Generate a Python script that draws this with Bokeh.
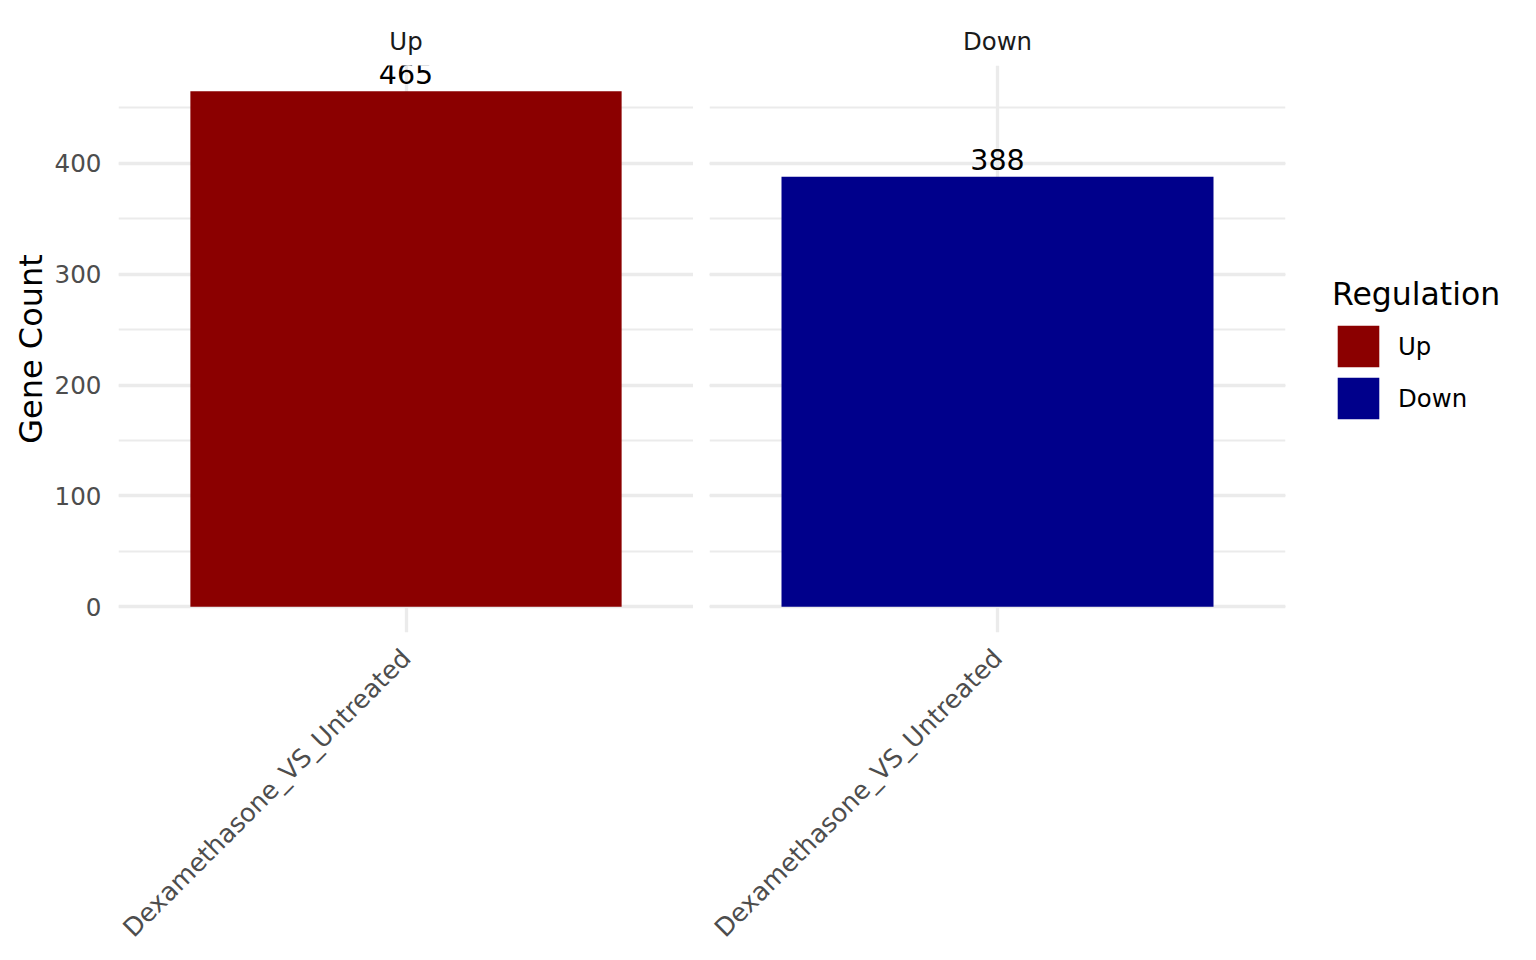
import math
from bokeh.plotting import figure
from bokeh.models import (ColumnDataSource, FactorRange, Range1d, SingleIntervalTicker,
                          Grid, LabelSet, Legend, LegendItem)
from bokeh.core.properties import value
from bokeh.layouts import row
from bokeh.embed import file_html
from bokeh.resources import INLINE

# ---------------- data ----------------
comparisons = ["Dexamethasone_VS_Untreated", "Dexamethasone_VS_Untreated"]
regulation = ["Up", "Down"]
gene_counts = [465, 388]
fill_colors = ["#8B0000", "#00008B"]
y_tick_interval = 100

FONT = "DejaVu Sans"
GRID = "#EBEBEB"

y_max = max(gene_counts)
pad = 0.05 * y_max
y_range = Range1d(-pad, y_max + pad)

FRAME_H = 567
TOP = 65
BOTTOM = 320

panels = []
renderers = []
for i, reg in enumerate(regulation):
    src = ColumnDataSource(dict(
        comparison=[comparisons[i]],
        regulation=[reg],
        count=[gene_counts[i]],
        label=[str(gene_counts[i])],
        color=[fill_colors[i]],
    ))
    first = i == 0
    p = figure(
        x_range=FactorRange(factors=[comparisons[i]], range_padding=0.2),
        y_range=y_range,
        frame_width=575 if first else 576,
        frame_height=FRAME_H,
        min_border_left=118 if first else 16,
        min_border_right=0 if first else 235,
        min_border_top=TOP,
        min_border_bottom=BOTTOM,
        y_axis_location="left" if first else None,
        title=reg,
        tools="",
        toolbar_location=None,
        output_backend="svg",
        background_fill_color="white",
        border_fill_color="white",
        outline_line_color=None,
    )
    p.title.align = "center"
    p.title.text_font = FONT
    p.title.text_font_size = "24.4px"
    p.title.text_font_style = "normal"
    p.title.text_color = "#1A1A1A"
    p.title.standoff = 20

    r = p.vbar(x="comparison", top="count", width=0.9, source=src,
               fill_color="color", line_color=None)
    renderers.append((r, src))

    labels = LabelSet(x="comparison", y="count", text="label", source=src,
                      text_align="center", text_baseline="alphabetic", y_offset=7,
                      text_font=value(FONT), text_font_size=value("28.5px"),
                      text_color=value("black"))
    p.add_layout(labels)

    # x axis
    xa = p.xaxis[0]
    xa.major_label_orientation = math.pi / 4
    xa.major_label_text_font = FONT
    xa.major_label_text_font_size = "25.4px"
    xa.major_label_text_color = "#4D4D4D"
    xa.major_label_standoff = 21
    xa.major_tick_line_color = None
    xa.major_tick_out = 0
    xa.major_tick_in = 0
    xa.minor_tick_line_color = None
    xa.axis_line_color = None
    p.xgrid.grid_line_color = GRID
    p.xgrid.grid_line_width = 3.3

    ticker = SingleIntervalTicker(interval=y_tick_interval, num_minor_ticks=2)
    if first:
        ya = p.yaxis[0]
        ya.ticker = ticker
        ya.axis_label = "Gene Count"
        ya.axis_label_text_font = FONT
        ya.axis_label_text_font_size = "32px"
        ya.axis_label_text_font_style = "normal"
        ya.axis_label_text_color = "black"
        ya.axis_label_standoff = 2
        ya.major_label_text_font = FONT
        ya.major_label_text_font_size = "24.6px"
        ya.major_label_text_color = "#4D4D4D"
        ya.major_label_standoff = 17
        ya.major_tick_line_color = None
        ya.major_tick_out = 0
        ya.major_tick_in = 0
        ya.minor_tick_line_color = None
        ya.minor_tick_out = 0
        ya.minor_tick_in = 0
        ya.axis_line_color = None
        p.ygrid.ticker = ticker
        ygrid = p.ygrid[0]
    else:
        ygrid = Grid(dimension=1, ticker=ticker)
        p.add_layout(ygrid)
    ygrid.grid_line_color = GRID
    ygrid.grid_line_width = 3.3
    ygrid.minor_grid_line_color = GRID
    ygrid.minor_grid_line_width = 2
    panels.append(p)

# legend (in the right panel); the "Up" entry uses a hidden copy of the Up bar
p_right = panels[1]
up_src = renderers[0][1]
up_hidden = p_right.vbar(x="comparison", top="count", width=0.9, source=up_src,
                         fill_color="color", line_color=None, visible=False)
legend = Legend(
    items=[LegendItem(label=regulation[0], renderers=[up_hidden]),
           LegendItem(label=regulation[1], renderers=[renderers[1][0]])],
    location=(47, 208),
    title="Regulation",
    title_text_font=FONT, title_text_font_size="31.5px", title_text_font_style="normal",
    title_text_color="black", title_standoff=8,
    label_text_font=FONT, label_text_font_size="24.4px", label_text_color="black",
    glyph_width=52, glyph_height=52, label_height=52, label_standoff=14,
    spacing=0, padding=0, margin=0,
    border_line_color=None, background_fill_alpha=0,
)
p_right.add_layout(legend, "right")

layout = row(panels[0], panels[1])
open("out.html", "w").write(file_html(layout, INLINE))
